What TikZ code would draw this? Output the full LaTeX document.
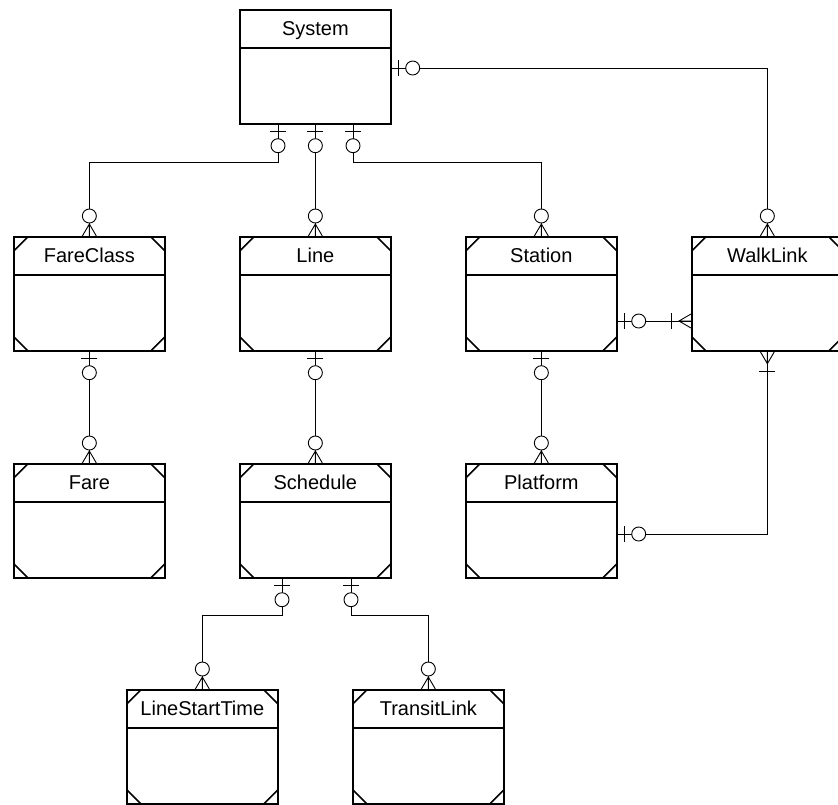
\documentclass[tikz,border=0pt]{standalone}
\usepackage{fontspec}
\setmainfont{Liberation Sans}
\usetikzlibrary{calc}
\tikzset{
  entity/.style={draw, line width=1.7pt, minimum width=151pt, minimum height=114pt,
    anchor=north west, inner sep=0pt, fill=white,
    path picture={\draw[line width=1.7pt]
      ([yshift=-38pt]path picture bounding box.north west) --
      ([yshift=-38pt]path picture bounding box.north east);}},
  weak/.style={path picture={
    \draw[line width=1.7pt]
      ([yshift=-38pt]path picture bounding box.north west) --
      ([yshift=-38pt]path picture bounding box.north east);
    \draw[line width=1.7pt]
      ([yshift=-14pt]path picture bounding box.north west) -- ([xshift=14pt]path picture bounding box.north west)
      ([yshift=-14pt]path picture bounding box.north east) -- ([xshift=-14pt]path picture bounding box.north east)
      ([yshift=14pt]path picture bounding box.south west) -- ([xshift=14pt]path picture bounding box.south west)
      ([yshift=14pt]path picture bounding box.south east) -- ([xshift=-14pt]path picture bounding box.south east);}},
  title/.style={anchor=base, font=\fontsize{20}{24}\selectfont, inner sep=0pt},
  conn/.style={line width=0.9pt},
  zo/.pic={\draw[line width=0.9pt] (7,-8) -- (7,8);
           \draw[line width=0.9pt, fill=white] (21,0) circle[radius=7];},
  zm/.pic={\draw[line width=0.9pt] (0,7) -- (12,0) -- (0,-7) (0,0) -- (12,0);
           \draw[line width=0.9pt, fill=white] (20,0) circle[radius=7];},
  om/.pic={\draw[line width=0.9pt] (0,7) -- (12,0) -- (0,-7) (0,0) -- (12,0);
           \draw[line width=0.9pt] (20,-8) -- (20,8);},
}
\begin{document}
\begin{tikzpicture}[x=1pt, y=-1pt]
\useasboundingbox (0,0) rectangle (838,804);
% entities
\node[entity] (sys) at (239,9) {};
\node[entity, weak] (fc) at (13,236) {};
\node[entity, weak] (line) at (239,236) {};
\node[entity, weak] (st) at (465,236) {};
\node[entity, weak] (wl) at (691,236) {};
\node[entity, weak] (fare) at (13,463) {};
\node[entity, weak] (sch) at (239,463) {};
\node[entity, weak] (plat) at (465,463) {};
\node[entity, weak] (lst) at (126,689) {};
\node[entity, weak] (tl) at (352,689) {};
% titles
\node[title] (sysT) at ([yshift=-26pt]sys.north) {System};
\node[title] (fcT) at ([yshift=-26pt]fc.north) {FareClass};
\node[title] (lineT) at ([yshift=-26pt]line.north) {Line};
\node[title] (stT) at ([yshift=-26pt]st.north) {Station};
\node[title] (wlT) at ([yshift=-26pt]wl.north) {WalkLink};
\node[title] (fareT) at ([yshift=-26pt]fare.north) {Fare};
\node[title] (schT) at ([yshift=-26pt]sch.north) {Schedule};
\node[title] (platT) at ([yshift=-26pt]plat.north) {Platform};
\node[title] (lstT) at ([yshift=-26pt]lst.north) {LineStartTime};
\node[title] (tlT) at ([yshift=-26pt]tl.north) {TransitLink};
% anchor points
\coordinate (s1) at ([xshift=39pt]sys.south west);
\coordinate (s3) at ([xshift=114pt]sys.south west);
\coordinate (sr) at ([yshift=-59pt]sys.north east);
\coordinate (swy) at ([yshift=-85pt]st.north east);
\coordinate (wlw) at (swy -| wl.west);
\coordinate (pr) at ([yshift=-71pt]plat.north east);
\coordinate (c1) at ([xshift=43pt]sch.south west);
\coordinate (c2) at ([xshift=112pt]sch.south west);
% connectors
\draw[conn] (s1) -- ++(0,38) -| (fc.north);
\draw[conn] (sys.south) -- (line.north);
\draw[conn] (s3) -- ++(0,38) -| (st.north);
\draw[conn] (sr) -| (wl.north);
\draw[conn] (fc.south) -- (fare.north);
\draw[conn] (line.south) -- (sch.north);
\draw[conn] (st.south) -- (plat.north);
\draw[conn] (swy) -- (wlw);
\draw[conn] (wl.south) |- (pr);
\draw[conn] (c1) -- ++(0,37) -| (lst.north);
\draw[conn] (c2) -- ++(0,37) -| (tl.north);
% markers
\pic[rotate=-90] at (s1) {zo};
\pic[rotate=-90] at (sys.south) {zo};
\pic[rotate=-90] at (s3) {zo};
\pic at (sr) {zo};
\pic[rotate=-90] at (fc.south) {zo};
\pic[rotate=-90] at (line.south) {zo};
\pic[rotate=-90] at (st.south) {zo};
\pic at (swy) {zo};
\pic at (pr) {zo};
\pic[rotate=-90] at (c1) {zo};
\pic[rotate=-90] at (c2) {zo};
\pic[rotate=90] at (fc.north) {zm};
\pic[rotate=90] at (line.north) {zm};
\pic[rotate=90] at (st.north) {zm};
\pic[rotate=90] at (wl.north) {zm};
\pic[rotate=90] at (fare.north) {zm};
\pic[rotate=90] at (sch.north) {zm};
\pic[rotate=90] at (plat.north) {zm};
\pic[rotate=90] at (lst.north) {zm};
\pic[rotate=90] at (tl.north) {zm};
\pic[rotate=180] at (wlw) {om};
\pic[rotate=-90] at (wl.south) {om};
\end{tikzpicture}
\end{document}
